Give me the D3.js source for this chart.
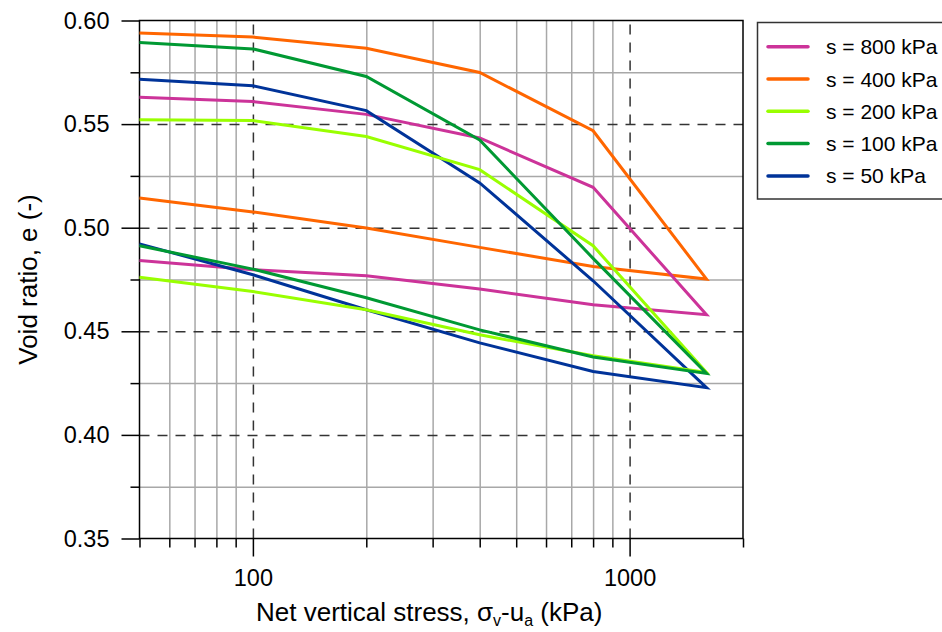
<!DOCTYPE html>
<html>
<head>
<meta charset="utf-8">
<script src="https://cdn.jsdelivr.net/npm/d3@7"></script>
<style>
  html, body { margin: 0; padding: 0; background: #fff; }
  svg { display: block; font-family: "Liberation Sans", Arial, Helvetica, sans-serif; }
</style>
</head>
<body>
<svg id="chart" width="942" height="632"></svg>
<script>
// ---- data ----
const stress = [50, 100, 200, 400, 800, 1600, 800, 400, 200, 100, 50];
const seriesNames = ["s = 800 kPa", "s = 400 kPa", "s = 200 kPa", "s = 100 kPa", "s = 50 kPa"];
const s800 = [0.5630, 0.5609, 0.5547, 0.5433, 0.5195, 0.4580, 0.4628, 0.4704, 0.4768, 0.4797, 0.4842];
const s400 = [0.5940, 0.5920, 0.5866, 0.5749, 0.5468, 0.4752, 0.4813, 0.4905, 0.4999, 0.5076, 0.5143];
const s200 = [0.5521, 0.5517, 0.5440, 0.5280, 0.4913, 0.4301, 0.4382, 0.4483, 0.4604, 0.4692, 0.4761];
const s100 = [0.5894, 0.5863, 0.5730, 0.5423, 0.4852, 0.4297, 0.4376, 0.4507, 0.4662, 0.4800, 0.4913];
const s50  = [0.5717, 0.5685, 0.5565, 0.5216, 0.4744, 0.4228, 0.4306, 0.4444, 0.4604, 0.4773, 0.4922];
const seriesColors = ["#CC3399", "#FF6600", "#99FF00", "#009933", "#003399"];
const xMajorTicks = [100, 1000];
const xMinorTicks = [50, 60, 70, 80, 90, 200, 300, 400, 500, 600, 700, 800, 900, 2000];
const yMajorTicks = [0.35, 0.40, 0.45, 0.50, 0.55, 0.60];
const yMinorTicks = [0.375, 0.425, 0.475, 0.525, 0.575];

const allSeries = [s800, s400, s200, s100, s50];

// ---- layout ----
const L = 139.5, R = 743, T = 20.5, B = 538.5;
const svg = d3.select("#chart");
const x = d3.scaleLog().domain([50, 2000]).range([L, R]);
const y = d3.scaleLinear().domain([0.35, 0.60]).range([B, T]);

const g = svg.append("g");

// minor grid (solid gray)
g.append("g").attr("transform", `translate(0,${B})`)
  .call(d3.axisBottom(x).tickValues(xMinorTicks.filter(v => v > 50 && v < 2000)).tickSize(-(B - T)).tickFormat(""))
  .call(a => a.select(".domain").remove())
  .call(a => a.selectAll("line").attr("stroke", "#a8a8a8").attr("stroke-width", 1.5));
g.append("g").attr("transform", `translate(${L},0)`)
  .call(d3.axisLeft(y).tickValues(yMinorTicks).tickSize(-(R - L)).tickFormat(""))
  .call(a => a.select(".domain").remove())
  .call(a => a.selectAll("line").attr("stroke", "#a8a8a8").attr("stroke-width", 1.5));

// major grid (dashed)
g.append("g").attr("transform", `translate(0,${B})`)
  .call(d3.axisBottom(x).tickValues(xMajorTicks).tickSize(-(B - T)).tickFormat(""))
  .call(a => a.select(".domain").remove())
  .call(a => a.selectAll("line").attr("stroke", "#333").attr("stroke-width", 1.5).attr("stroke-dasharray", "10,8"));
g.append("g").attr("transform", `translate(${L},0)`)
  .call(d3.axisLeft(y).tickValues(yMajorTicks.filter(v => v > 0.35 && v < 0.60)).tickSize(-(R - L)).tickFormat(""))
  .call(a => a.select(".domain").remove())
  .call(a => a.selectAll("line").attr("stroke", "#333").attr("stroke-width", 1.5).attr("stroke-dasharray", "10,8"));

// frame
g.append("rect").attr("x", L).attr("y", T).attr("width", R - L).attr("height", B - T)
  .attr("fill", "none").attr("stroke", "#000").attr("stroke-width", 1.5);

// axes ticks
const fontSize = 23.5;
g.append("g").attr("transform", `translate(0,${B})`)
  .call(d3.axisBottom(x).tickValues(xMinorTicks).tickSize(9).tickFormat(""))
  .call(a => a.select(".domain").remove())
  .call(a => a.selectAll("line").attr("stroke", "#000").attr("stroke-width", 1.5));
g.append("g").attr("transform", `translate(0,${B})`)
  .call(d3.axisBottom(x).tickValues(xMajorTicks).tickSize(18).tickPadding(13).tickFormat(d3.format("d")))
  .call(a => a.select(".domain").remove())
  .call(a => a.selectAll("line").attr("stroke", "#000").attr("stroke-width", 1.5))
  .call(a => a.selectAll("text").attr("fill", "#000").attr("font-size", fontSize).attr("font-family", "Liberation Sans, Arial, sans-serif"));
g.append("g").attr("transform", `translate(${L},0)`)
  .call(d3.axisLeft(y).tickValues(yMinorTicks).tickSize(9).tickFormat(""))
  .call(a => a.select(".domain").remove())
  .call(a => a.selectAll("line").attr("stroke", "#000").attr("stroke-width", 1.5));
g.append("g").attr("transform", `translate(${L},0)`)
  .call(d3.axisLeft(y).tickValues(yMajorTicks).tickSize(18).tickPadding(12).tickFormat(d3.format(".2f")))
  .call(a => a.select(".domain").remove())
  .call(a => a.selectAll("line").attr("stroke", "#000").attr("stroke-width", 1.5))
  .call(a => a.selectAll("text").attr("fill", "#000").attr("font-size", fontSize).attr("font-family", "Liberation Sans, Arial, sans-serif"));

// lines
const line = d3.line().x((d, i) => x(stress[i])).y(d => y(d));
const drawOrder = [1, 0, 4, 2, 3];
drawOrder.forEach(k => {
  g.append("path").datum(allSeries[k])
    .attr("d", line)
    .attr("fill", "none")
    .attr("stroke", seriesColors[k])
    .attr("stroke-width", 3)
    .attr("stroke-linejoin", "miter");
});

// axis titles
const xt = svg.append("text").attr("x", (L + R) / 2 - 12).attr("y", 621)
  .attr("text-anchor", "middle").attr("font-size", 26).attr("fill", "#000");
xt.append("tspan").text("Net vertical stress, σ");
xt.append("tspan").attr("font-size", 16).attr("dy", 5).text("v");
xt.append("tspan").attr("dy", -5).text("-u");
xt.append("tspan").attr("font-size", 16).attr("dy", 5).text("a");
xt.append("tspan").attr("dy", -5).text(" (kPa)");

svg.append("text").attr("transform", `translate(37,${(T + B) / 2}) rotate(-90)`)
  .attr("text-anchor", "middle").attr("font-size", 26).attr("fill", "#000")
  .text("Void ratio, e (-)");

// legend
const lg = svg.append("g");
lg.append("rect").attr("x", 757.5).attr("y", 22.5).attr("width", 200).attr("height", 176.5)
  .attr("fill", "#fff").attr("stroke", "#333").attr("stroke-width", 1.5);
seriesNames.forEach((name, i) => {
  const yy = 46.7 + i * 32.3;
  lg.append("line").attr("x1", 768).attr("x2", 808).attr("y1", yy).attr("y2", yy)
    .attr("stroke", seriesColors[i]).attr("stroke-width", 3.5).attr("stroke-linecap", "round");
  lg.append("text").attr("x", 826).attr("y", yy + 7.5).attr("font-size", 21).attr("fill", "#000").text(name);
});
</script>
</body>
</html>
